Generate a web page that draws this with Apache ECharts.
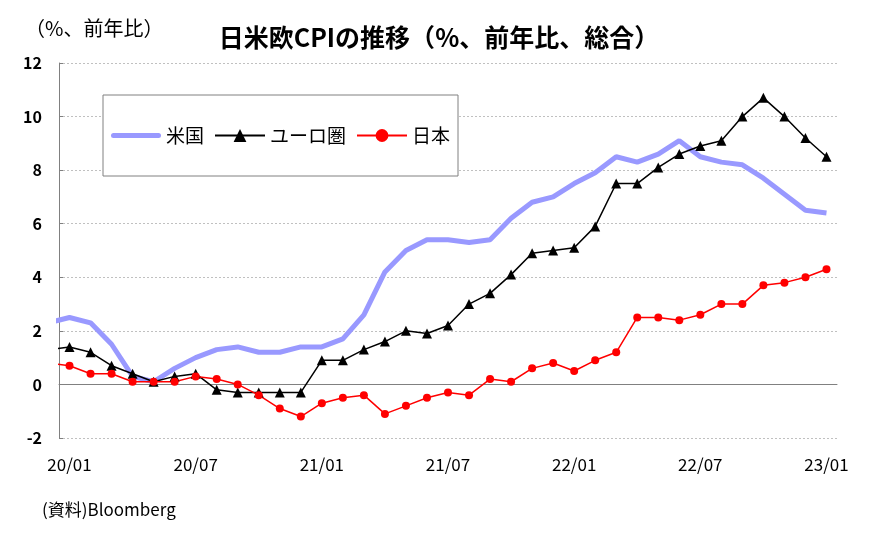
<!DOCTYPE html>
<html>
<head>
<meta charset="utf-8">
<script src="https://cdn.jsdelivr.net/npm/echarts@6/dist/echarts.min.js"></script>
<style>html,body{margin:0;padding:0;background:#fff;}#c{width:878px;height:540px;}</style>
</head>
<body>
<div id="c"></div>
<script>
// Months (first entry 19/12 is only partly visible, clipped at the left edge)
const months = ['19/12',
  '20/01','20/02','20/03','20/04','20/05','20/06','20/07','20/08','20/09','20/10','20/11','20/12',
  '21/01','21/02','21/03','21/04','21/05','21/06','21/07','21/08','21/09','21/10','21/11','21/12',
  '22/01','22/02','22/03','22/04','22/05','22/06','22/07','22/08','22/09','22/10','22/11','22/12',
  '23/01'];
const usCPI = [2.3,
  2.5,2.3,1.5,0.3,0.1,0.6,1.0,1.3,1.4,1.2,1.2,1.4,
  1.4,1.7,2.6,4.2,5.0,5.4,5.4,5.3,5.4,6.2,6.8,7.0,
  7.5,7.9,8.5,8.3,8.6,9.1,8.5,8.3,8.2,7.7,7.1,6.5,
  6.4];
const euroCPI = [1.3,
  1.4,1.2,0.7,0.4,0.1,0.3,0.4,-0.2,-0.3,-0.3,-0.3,-0.3,
  0.9,0.9,1.3,1.6,2.0,1.9,2.2,3.0,3.4,4.1,4.9,5.0,
  5.1,5.9,7.5,7.5,8.1,8.6,8.9,9.1,10.0,10.7,10.0,9.2,
  8.5];
const japanCPI = [0.8,
  0.7,0.4,0.4,0.1,0.1,0.1,0.3,0.2,0.0,-0.4,-0.9,-1.2,
  -0.7,-0.5,-0.4,-1.1,-0.8,-0.5,-0.3,-0.4,0.2,0.1,0.6,0.8,
  0.5,0.9,1.2,2.5,2.5,2.4,2.6,3.0,3.0,3.7,3.8,4.0,
  4.3];
const seriesNames = ['米国','ユーロ圏','日本'];
const titleText = '日米欧CPIの推移（%、前年比、総合）';
const unitText = '（%、前年比）';
const sourceText = '(資料)Bloomberg';
const yMin = -2, yMax = 12, yStep = 2;

const FONT = '"Noto Sans CJK JP", "Noto Sans", sans-serif';
const axisCats = months.slice(1);
const toPairs = arr => arr.map((v, i) => [i - 1, v]);

const chart = echarts.init(document.getElementById('c'), null, {renderer: 'canvas'});
chart.setOption({
  animation: false,
  backgroundColor: '#ffffff',
  textStyle: {fontFamily: FONT},
  title: [
    {text: titleText, left: 'center', top: 20,
     textStyle: {fontFamily: FONT, fontSize: 25, fontWeight: 'bold', color: '#000'}},
    {text: unitText, left: 20, top: 13,
     textStyle: {fontFamily: FONT, fontSize: 20, fontWeight: 'normal', color: '#000'}},
    {text: sourceText, left: 37, top: 496,
     textStyle: {fontFamily: FONT, fontSize: 17, fontWeight: 'normal', color: '#000'}}
  ],
  legend: {
    data: [
      {name: seriesNames[0], icon: 'path://M2.5,0 L47.5,0 A2.5,2.5 0 0 1 47.5,5 L2.5,5 A2.5,2.5 0 0 1 2.5,0 Z',
       symbolKeepAspect: true},
      {name: seriesNames[1]},
      {name: seriesNames[2]}
    ],
    left: 103, top: 95,
    orient: 'horizontal',
    padding: [31, 8, 31, 8],
    itemGap: 10,
    itemWidth: 50, itemHeight: 16,
    symbolKeepAspect: true,
    backgroundColor: '#fff',
    borderColor: '#808080', borderWidth: 1,
    textStyle: {fontFamily: FONT, fontSize: 19, color: '#000', padding: [0,0,0,0]},
    z: 10
  },
  grid: {left: 59, right: 41, top: 63, bottom: 102, containLabel: false},
  xAxis: [
    {
      type: 'category', data: axisCats, boundaryGap: true, position: 'bottom',
      axisLine: {show: false, onZero: false},
      axisTick: {show: false},
      axisLabel: {interval: 5, margin: 18, fontFamily: FONT, fontSize: 17, color: '#000'},
      splitLine: {show: false}
    },
    {
      type: 'value', min: -0.5, max: 36.5, position: 'top',
      axisLine: {show: true, onZero: true, lineStyle: {color: '#808080', width: 1}},
      axisTick: {show: false}, axisLabel: {show: false}, splitLine: {show: false}
    }
  ],
  yAxis: {
    type: 'value', min: yMin, max: yMax, interval: yStep,
    axisLine: {show: true, onZero: false, lineStyle: {color: '#808080', width: 1}},
    axisTick: {show: true, inside: true, length: 4, lineStyle: {color: '#808080'}},
    axisLabel: {margin: 17, fontFamily: FONT, fontSize: 16, fontWeight: 'bold', color: '#000'},
    splitLine: {show: true, lineStyle: {color: '#c0c0c0', width: 1, type: [2, 2]}}
  },
  series: [
    {name: seriesNames[0], type: 'line', xAxisIndex: 1, data: toPairs(usCPI),
     symbol: 'none', clip: true,
     lineStyle: {color: '#9999FF', width: 5}, itemStyle: {color: '#9999FF'}},
    {name: seriesNames[1], type: 'line', xAxisIndex: 1, data: toPairs(euroCPI),
     symbol: 'triangle', symbolSize: 10, clip: true,
     lineStyle: {color: '#000', width: 1.5}, itemStyle: {color: '#000'}},
    {name: seriesNames[2], type: 'line', xAxisIndex: 1, data: toPairs(japanCPI),
     symbol: 'circle', symbolSize: 8, clip: true,
     lineStyle: {color: '#FF0000', width: 1.5}, itemStyle: {color: '#FF0000'}}
  ]
});
</script>
</body>
</html>
